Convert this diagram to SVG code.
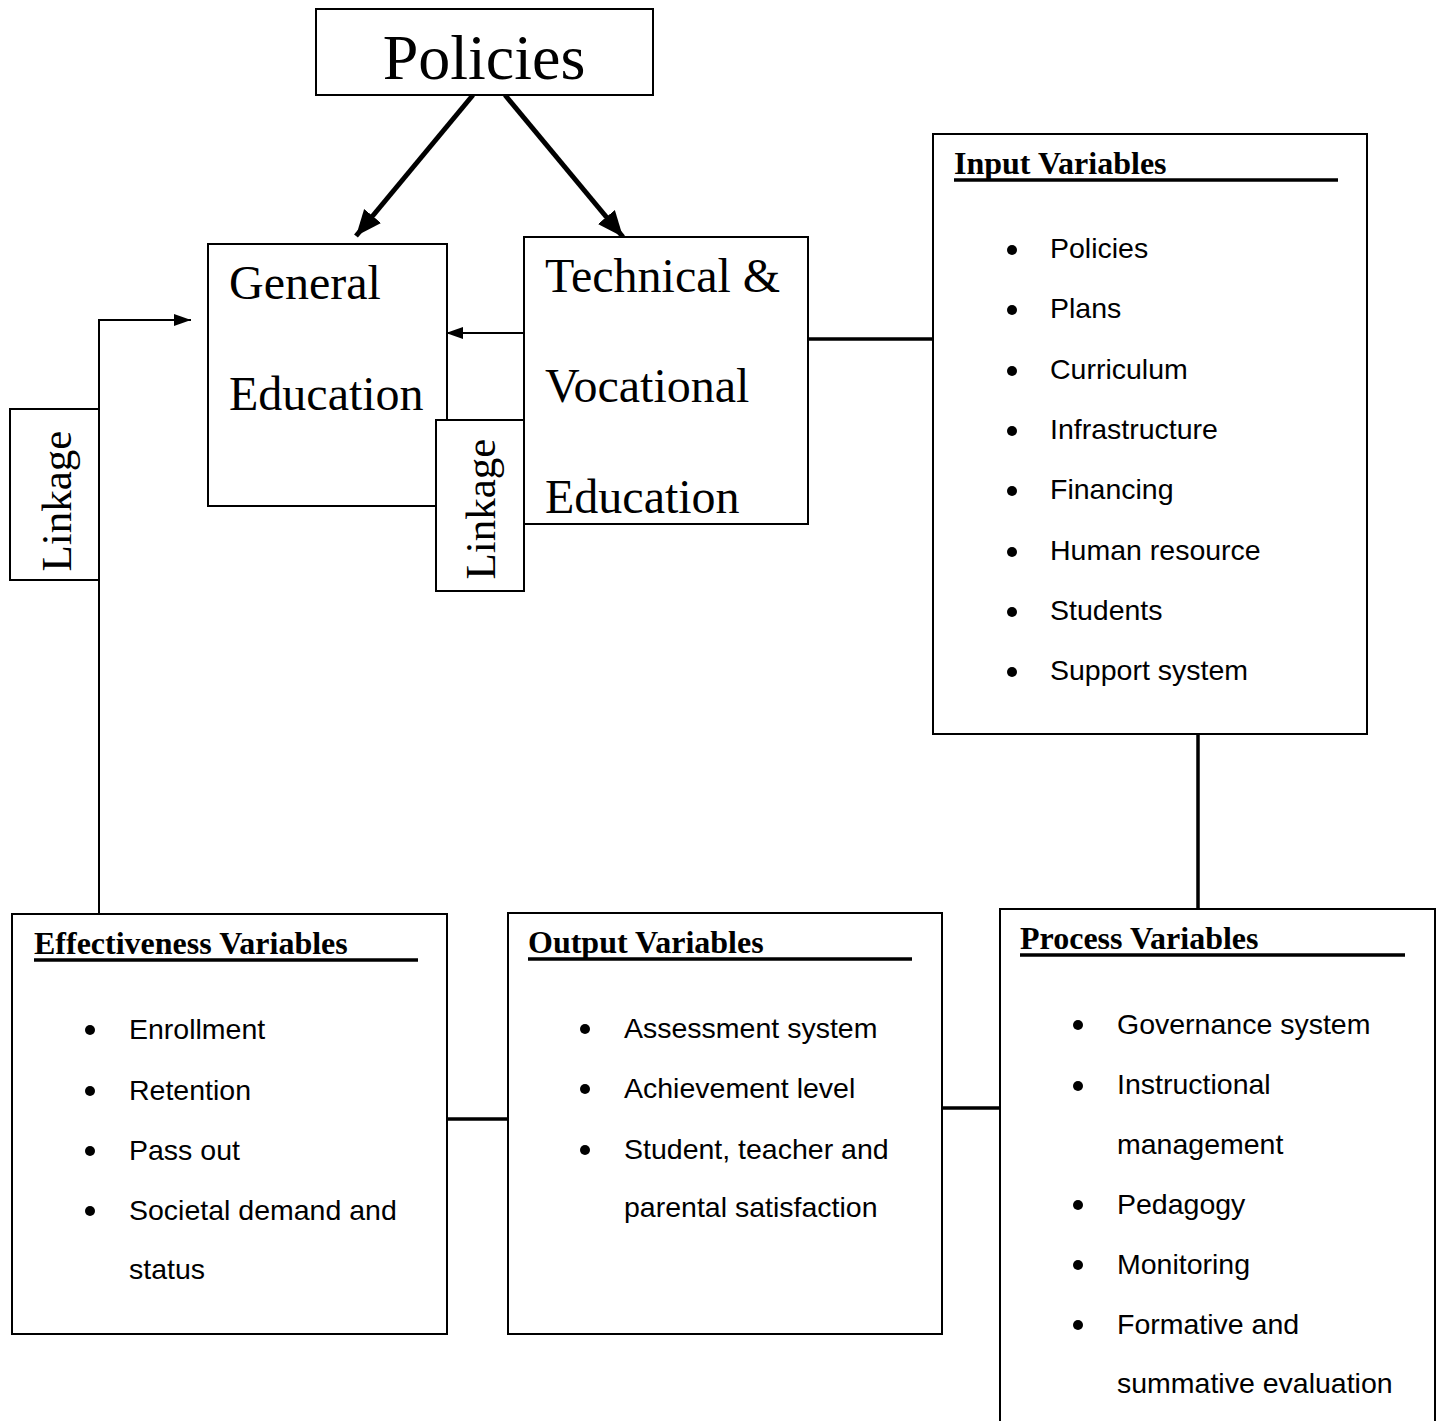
<svg xmlns="http://www.w3.org/2000/svg" width="1438" height="1421" viewBox="0 0 1438 1421">
<style>
.box{fill:#fff;stroke:#000;stroke-width:2}
.serif{font-family:"Liberation Serif","Times New Roman",serif;fill:#000}
.big{font-size:64px}
.mid{font-size:48px}
.lnk{font-size:43px}
.head{font-family:"Liberation Serif","Times New Roman",serif;font-size:32px;font-weight:bold;fill:#000}
.item{font-family:"Liberation Sans",Arial,sans-serif;font-size:28.5px;fill:#000}
.ul{stroke:#000;stroke-width:3.5}
.conn{stroke:#000;fill:none}
</style>
<defs>
<marker id="bigArrow" markerUnits="userSpaceOnUse" markerWidth="30" markerHeight="30" viewBox="0 0 30 30" refX="26" refY="15" orient="auto">
<path d="M0,4 L26,15 L0,26 Z" fill="#000"/>
</marker>
<marker id="smallArrow" markerUnits="userSpaceOnUse" markerWidth="20" markerHeight="20" viewBox="0 0 20 20" refX="17" refY="10" orient="auto">
<path d="M0,4 L17,10 L0,16 Z" fill="#000"/>
</marker>
</defs>

<g id="connectors">
<line class="conn" x1="473" y1="95" x2="356" y2="236" stroke-width="5" marker-end="url(#bigArrow)"/>
<line class="conn" x1="505" y1="95" x2="623" y2="237" stroke-width="5" marker-end="url(#bigArrow)"/>
<line class="conn" x1="524" y1="333" x2="446" y2="333" stroke-width="2" marker-end="url(#smallArrow)"/>
<polyline class="conn" points="99,913 99,320 191,320" stroke-width="2" marker-end="url(#smallArrow)"/>
<line class="conn" x1="808" y1="339" x2="933" y2="339" stroke-width="3.5"/>
<line class="conn" x1="1198" y1="734" x2="1198" y2="909" stroke-width="3.5"/>
<line class="conn" x1="447" y1="1119" x2="508" y2="1119" stroke-width="3.5"/>
<line class="conn" x1="942" y1="1108" x2="1000" y2="1108" stroke-width="3.5"/>
</g>

<g id="policies">
<rect class="box" x="316" y="9" width="337" height="86"/>
<text class="serif big" x="484" y="79" text-anchor="middle">Policies</text>
</g>

<g id="general-education">
<rect class="box" x="208" y="244" width="239" height="262"/>
<text class="serif mid" x="229" y="299">General</text>
<text class="serif mid" x="229" y="410">Education</text>
</g>

<g id="technical-vocational">
<rect class="box" x="524" y="237" width="284" height="287"/>
<text class="serif mid" x="545" y="292">Technical &amp;</text>
<text class="serif mid" x="545" y="402">Vocational</text>
<text class="serif mid" x="545" y="513">Education</text>
</g>

<g id="linkage-inner">
<rect class="box" x="436" y="420" width="88" height="171"/>
<text class="serif lnk" transform="translate(495,509) rotate(-90)" text-anchor="middle">Linkage</text>
</g>

<g id="linkage-outer">
<rect class="box" x="10" y="409" width="89" height="171"/>
<text class="serif lnk" transform="translate(71,501) rotate(-90)" text-anchor="middle">Linkage</text>
</g>

<g id="input-variables">
<rect class="box" x="933" y="134" width="434" height="600"/>
<text class="head" x="954" y="174">Input Variables</text>
<line class="ul" x1="954" y1="180" x2="1338" y2="180"/>
<g fill="#000">
<circle cx="1012" cy="250" r="5"/><circle cx="1012" cy="310" r="5"/><circle cx="1012" cy="371" r="5"/><circle cx="1012" cy="431" r="5"/>
<circle cx="1012" cy="491" r="5"/><circle cx="1012" cy="552" r="5"/><circle cx="1012" cy="612" r="5"/><circle cx="1012" cy="672" r="5"/>
</g>
<text class="item" x="1050" y="258">Policies</text>
<text class="item" x="1050" y="318">Plans</text>
<text class="item" x="1050" y="379">Curriculum</text>
<text class="item" x="1050" y="439">Infrastructure</text>
<text class="item" x="1050" y="499">Financing</text>
<text class="item" x="1050" y="560">Human resource</text>
<text class="item" x="1050" y="620">Students</text>
<text class="item" x="1050" y="680">Support system</text>
</g>

<g id="process-variables">
<rect class="box" x="1000" y="909" width="435" height="520"/>
<text class="head" x="1020" y="949">Process Variables</text>
<line class="ul" x1="1020" y1="955" x2="1405" y2="955"/>
<g fill="#000">
<circle cx="1078" cy="1025" r="5"/><circle cx="1078" cy="1086" r="5"/><circle cx="1078" cy="1205" r="5"/><circle cx="1078" cy="1265" r="5"/><circle cx="1078" cy="1325" r="5"/>
</g>
<text class="item" x="1117" y="1034">Governance system</text>
<text class="item" x="1117" y="1094">Instructional</text>
<text class="item" x="1117" y="1154">management</text>
<text class="item" x="1117" y="1214">Pedagogy</text>
<text class="item" x="1117" y="1274">Monitoring</text>
<text class="item" x="1117" y="1334">Formative and</text>
<text class="item" x="1117" y="1393">summative evaluation</text>
</g>

<g id="output-variables">
<rect class="box" x="508" y="913" width="434" height="421"/>
<text class="head" x="528" y="953">Output Variables</text>
<line class="ul" x1="528" y1="959" x2="912" y2="959"/>
<g fill="#000">
<circle cx="585" cy="1029" r="5"/><circle cx="585" cy="1089" r="5"/><circle cx="585" cy="1150" r="5"/>
</g>
<text class="item" x="624" y="1038">Assessment system</text>
<text class="item" x="624" y="1098">Achievement level</text>
<text class="item" x="624" y="1159">Student, teacher and</text>
<text class="item" x="624" y="1217">parental satisfaction</text>
</g>

<g id="effectiveness-variables">
<rect class="box" x="12" y="914" width="435" height="420"/>
<text class="head" x="34" y="954">Effectiveness Variables</text>
<line class="ul" x1="34" y1="960" x2="418" y2="960"/>
<g fill="#000">
<circle cx="90" cy="1030" r="5"/><circle cx="90" cy="1091" r="5"/><circle cx="90" cy="1151" r="5"/><circle cx="90" cy="1211" r="5"/>
</g>
<text class="item" x="129" y="1039">Enrollment</text>
<text class="item" x="129" y="1100">Retention</text>
<text class="item" x="129" y="1160">Pass out</text>
<text class="item" x="129" y="1220">Societal demand and</text>
<text class="item" x="129" y="1279">status</text>
</g>
</svg>
